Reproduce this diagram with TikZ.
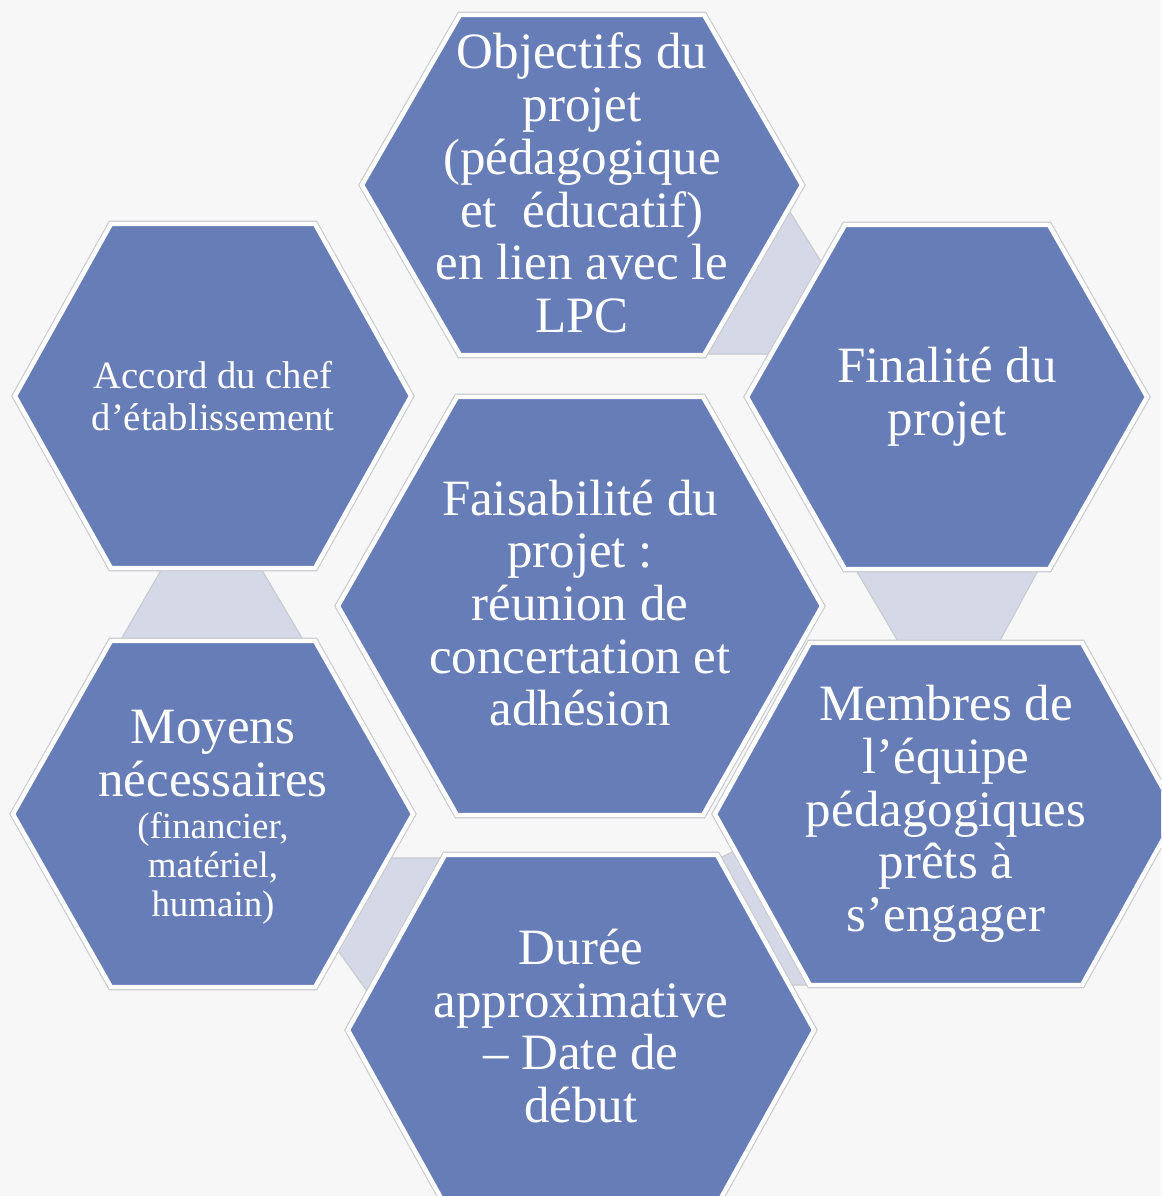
\documentclass[tikz,border=0pt]{standalone}
\usepackage{fontspec}
\setmainfont{Liberation Serif}
\usetikzlibrary{calc}

\definecolor{hexblue}{RGB}{103,125,184}
\definecolor{linkgray}{RGB}{213,217,231}
\definecolor{rimgray}{RGB}{200,202,208}
\definecolor{paper}{RGB}{247,247,247}

\newcommand{\hexcell}[5]{%
  \draw[hexrim] (#1-#3,#2) -- (#1-#4,#2-#5) -- (#1+#4,#2-#5) -- (#1+#3,#2) -- (#1+#4,#2+#5) -- (#1-#4,#2+#5) -- cycle;
  \draw[hexface] (#1-#3,#2) -- (#1-#4,#2-#5) -- (#1+#4,#2-#5) -- (#1+#3,#2) -- (#1+#4,#2+#5) -- (#1-#4,#2+#5) -- cycle;
}
\newcommand{\smalltxt}{\fontsize{10.5}{10.8}\selectfont}

\begin{document}
\begin{tikzpicture}[x=0.1mm, y=-0.1mm,
    hexrim/.style={draw=rimgray, line width=1.9pt, line join=miter},
    hexface/.style={fill=hexblue, draw=white, line width=1.25pt, line join=miter},
    linkband/.style={fill=linkgray, draw=rimgray, line width=0.3pt},
    hextext/.style={text=white, align=center, inner sep=0pt, font=\fontsize{14.5}{15}\selectfont}]

  \fill[paper] (0,0) rectangle (1161,1196);
  \useasboundingbox (0,0) rectangle (1161,1196);
  \clip (0,0) rectangle (1161,1196);

  \path[linkband] (785,204) -- (827,271) -- (776,354) -- (700,354) -- cycle;
  \path[linkband] (853,565) -- (1041,565) -- (996,648) -- (902,648) -- cycle;
  \path[linkband] (164,565) -- (259,565) -- (308,648) -- (116,648) -- cycle;
  \path[linkband] (385,858) -- (445,858) -- (369,994) -- (336,948) -- cycle;
  \path[linkband] (716,860) -- (736,850) -- (812,985) -- (785,985) -- cycle;

  \hexcell{582}{185}{220}{122}{170}
  \hexcell{947}{397}{200}{102}{172}
  \hexcell{213}{396}{198}{102}{172}
  \hexcell{580}{606}{242}{123}{209}
  \hexcell{213}{814}{200}{102}{173}
  \hexcell{946}{814}{231}{136}{171}
  \hexcell{581}{1030}{233}{136}{175}

  \node[hextext] (objectifs) at (582,183) {Objectifs du\\ projet\\ (pédagogique\\ et~~éducatif)\\ en lien avec le\\ LPC};
  \node[hextext] (finalite) at (947,397) {Finalité du\\ projet};
  \node[hextext, font=\fontsize{11}{12}\selectfont] (accord) at (213,396) {Accord du chef\\ d’établissement};
  \node[hextext] (faisabilite) at (580,603) {Faisabilité du\\ projet :\\ réunion de\\ concertation et\\ adhésion};
  \node[hextext] (moyens) at (213,817) {Moyens\\ nécessaires\\[-2.8pt] {\smalltxt (financier,}\\[-4pt] {\smalltxt matériel,}\\[-4pt] {\smalltxt humain)}};
  \node[hextext] (membres) at (946,814) {Membres de\\ l’équipe\\ pédagogiques\\ prêts à\\ s’engager};
  \node[hextext] (duree) at (581,1026) {Durée\\ approximative\\ – Date de\\ début};
\end{tikzpicture}
\end{document}
